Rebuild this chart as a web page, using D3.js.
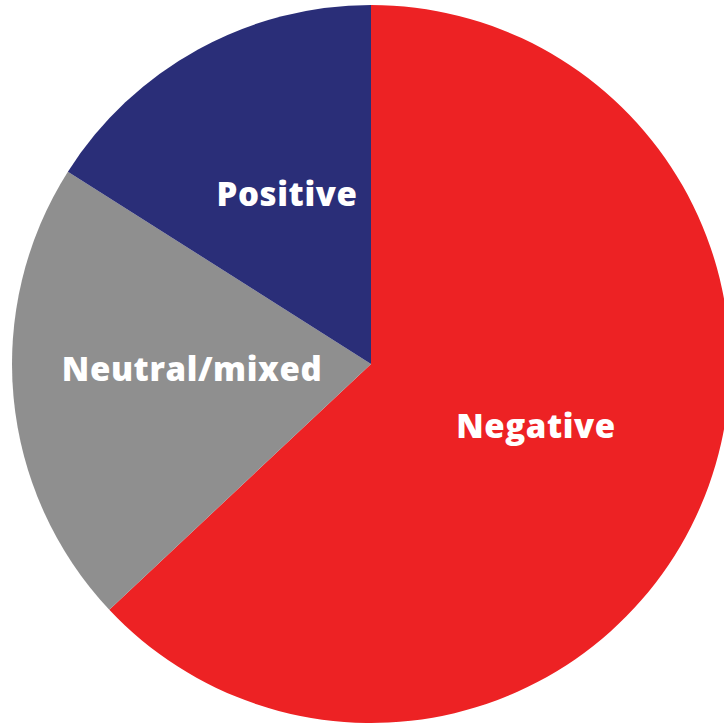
<!DOCTYPE html>
<html>
<head>
<meta charset="utf-8">
<script src="https://cdn.jsdelivr.net/npm/d3@7"></script>
<style>
  html, body { margin: 0; padding: 0; background: #ffffff; }
  svg { display: block; }
  .slice-label { font-family: "Open Sans", sans-serif; font-weight: 800; fill: #ffffff; letter-spacing: 0.6px; }
</style>
</head>
<body>
<svg id="chart" width="724" height="725"></svg>
<script>
// Share of coverage by tone (percent)
const categories = ["Negative", "Neutral/mixed", "Positive"];
const values = [63, 21, 16];
const colors = ["#ED2224", "#8F8F8F", "#2A2E78"];

// Label anchors, as offsets from the pie centre
const labelOffsets = [[165, 61], [-179, 4], [-84, -171]];

const width = 724, height = 725;
const cx = 371, cy = 364, radius = 359;

const svg = d3.select("#chart");
const g = svg.append("g").attr("transform", `translate(${cx},${cy})`);

const data = categories.map((c, i) => ({ category: c, value: values[i], color: colors[i], offset: labelOffsets[i] }));

const pie = d3.pie().value(d => d.value).sort(null);
const arc = d3.arc().innerRadius(0).outerRadius(radius);

const arcs = pie(data);

g.selectAll("path.slice")
  .data(arcs)
  .join("path")
  .attr("class", "slice")
  .attr("d", arc)
  .attr("fill", d => d.data.color);

g.selectAll("text.slice-label")
  .data(arcs)
  .join("text")
  .attr("class", "slice-label")
  .attr("x", d => d.data.offset[0])
  .attr("y", d => d.data.offset[1])
  .attr("text-anchor", "middle")
  .attr("dominant-baseline", "central")
  .attr("font-size", 33)
  .text(d => d.data.category);
</script>
</body>
</html>
